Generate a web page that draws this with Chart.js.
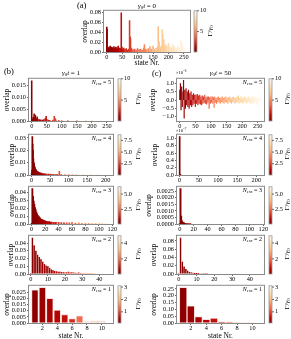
<!DOCTYPE html>
<html>
<head>
<meta charset="utf-8">
<script src="https://cdn.jsdelivr.net/npm/chart.js@4"></script>
<style>
  body { margin: 0; background: #fff; width: 291px; height: 339px; position: relative; overflow: hidden; font-family: 'Liberation Serif', serif; }
  canvas { position: absolute; }
  .t { position: absolute; white-space: nowrap; color: #000; line-height: 1; }
  .t sub { font-size: 70%; vertical-align: -0.3em; line-height: 0; }
  .t sup { font-size: 70%; vertical-align: 0.5em; line-height: 0; }
</style>
</head>
<body>
<script>
// Γ/γ0 of the states (one value per block of states)
const gammaN5 = [0.3, 0.7, 1.0, 1.3, 1.7, 2.0, 2.4, 2.8, 3.2, 3.6, 4.0, 4.4, 4.8, 5.2, 5.6, 6.0, 6.4, 6.8, 7.2, 7.6, 8.0, 8.4, 8.8, 9.2, 9.6, 9.9];
const gammaN4 = [0.2, 0.5, 0.8, 1.1, 1.5, 1.9, 2.4, 2.9, 3.4, 3.9, 4.4, 4.9, 5.4, 5.8, 6.2, 6.6, 7.0, 7.4, 7.8, 8.2, 8.5];
const gammaN3 = [0.2, 0.5, 0.9, 1.3, 1.7, 2.1, 2.6, 3.0, 3.5, 4.0, 4.5, 5.0, 5.5];
const gammaN2 = [0.2, 0.4, 0.6, 0.9, 1.3, 1.6, 2.8, 3.3, 3.8];
const gammaN1 = [0.2, 0.2, 0.3, 0.4, 0.5, 0.6, 0.8, 1.3, 2.8, 2.9, 3.0];

// tick labels
const ticksN5 = [0, 50, 100, 150, 200, 250];
const ticksN4 = [0, 50, 100, 150, 200];
const ticksN3 = [0, 20, 40, 60, 80, 100, 120];
const ticksN2 = [0, 10, 20, 30, 40];
const ticksN1 = [2, 4, 6, 8, 10];

// (a) gamma0 t = 0, N = 5
const aState = [0,1,3,5,7,9,11,13,15,17,
  19,21,23,25,27,29,31,33,35,37,
  39,41,43,45,47,49,51,55,59,63,
  67,71,74,76,77,80,85,90,95,100,
  105,110,115,120,122,125,130,135,140,145,
  150,155,160,165,167,170,173,176,180,182,
  185,188,191,195,200,205,210,215,220,225,
  230,235,240,243,246,250,254];
const aOverlap = [0.050,0.046,0.006,0.008,0.010,0.006,0.012,0.008,0.010,0.006,
  0.009,0.007,0.011,0.006,0.008,0.010,0.005,0.009,0.007,0.012,
  0.006,0.008,0.005,0.007,0.079,0.010,0.006,0.008,0.005,0.007,
  0.004,0.006,0.063,0.030,0.026,0.008,0.005,0.006,0.004,0.007,
  0.005,0.006,0.004,0.008,0.015,0.006,0.005,0.007,0.011,0.006,
  0.012,0.005,0.008,0.010,0.051,0.020,0.008,0.012,0.045,0.035,
  0.025,0.010,0.015,0.012,0.018,0.010,0.008,0.014,0.010,0.007,
  0.012,0.008,0.025,0.020,0.012,0.008,0.005];

// (b) gamma0 t = 1
const b5State = [0,2,5,8,10,12,15,18,20,25, 30,35,40,45,48,50,55,60,70,75, 78,80,90,100,120,150,180,200,230,250];
const b5Overlap = [0.0170,0.0008,0.0015,0.0030,0.0012,0.0025,0.0010,0.0018,0.0008,0.0006,
  0.0005,0.0004,0.0006,0.0010,0.0020,0.0007,0.0004,0.0003,0.0004,0.0020,
  0.0010,0.0005,0.0003,0.0002,0.0003,0.0003,0.0002,0.0002,0.0001,0.0001];
const b4State = [0,1,2,3,4,5,6,7,8,9, 10,11,12,13,14,15,16,17,18,19, 20,22,24,26,28,30,33,36,40,45,
  50,55,60,66,70,75,80,90,100,110, 120,140,160,180,200];
const b4Overlap = [0.001,0.004,0.031,0.025,0.020,0.013,0.010,0.009,0.007,0.006,
  0.005,0.0045,0.004,0.0035,0.003,0.003,0.0025,0.0025,0.002,0.002,
  0.002,0.0018,0.0015,0.0015,0.0012,0.0012,0.001,0.001,0.0008,0.0008,
  0.0007,0.0006,0.0006,0.0005,0.0005,0.003,0.0005,0.0004,0.0004,0.0003,
  0.0003,0.0002,0.0002,0.0002,0.0001];
const b3State = [0,1,2,3,4,5,6,7,8,9, 10,11,12,13,14,15,16,17,18,19, 20,22,24,26,28,30,33,36,40,44,
  48,52,56,60,65,70,75,80,85,90, 95,100,105,110];
const b3Overlap = [0.001,0.045,0.035,0.029,0.025,0.021,0.018,0.015,0.013,0.011,
  0.010,0.009,0.008,0.007,0.006,0.006,0.005,0.005,0.0045,0.004,
  0.004,0.0035,0.003,0.003,0.0025,0.0025,0.002,0.002,0.002,0.0018,
  0.0015,0.0015,0.0015,0.002,0.0012,0.0015,0.001,0.0012,0.001,0.001,
  0.0008,0.0007,0.0005,0.0003];
const b2State = [0,1,2,3,4,5,6,7,8,9,10,11,12,13,14,15,16,17,18,19,
  20,21,22,23,24,25,26,27,28,29,30,31,32,33,34,35,36,37];
const b2Overlap = [0.001,0.047,0.037,0.030,0.025,0.022,0.019,0.016,0.013,0.011,
  0.010,0.008,0.006,0.005,0.004,0.0035,0.003,0.003,0.0028,0.0025,
  0.002,0.0022,0.003,0.002,0.0025,0.002,0.0018,0.0015,0.002,0.0015,
  0.0012,0.001,0.0015,0.001,0.0012,0.0008,0.0006,0.0004];
const b1State = [1,2,3,4,5,6,7,8,9,10];
const b1Overlap = [0.027,0.029,0.020,0.0105,0.0068,0.0035,0.0057,0.0012,0.0015,0.0015];

// (c) gamma0 t = 50
const c5State = [0,2,4,6,8,10,12,14,16,18,20,
  22,24,26,28,30,32,34,36,38,40, 42,44,46,48,50,52,54,56,58,60,
  62,64,66,68,70,72,74,76,78,80, 82,84,86,88,90,92,94,96,98,100,
  102,104,106,108,110,112,114,116,118,120, 122,124,126,128,130,132,134,136,138,140,
  142,144,146,148,150,152,154,156,158,160, 162,164,166,168,170,172,174,176,178,180,
  182,184,186,188,190,192,194,196,198,200, 202,204,206,208,210,212,214,216,218,220,
  222,224,226,228,230,232,234,236,238,240, 242,244,246,248,250,252,254,256,258];
const c5Overlap = [0.6,1.0,-0.6,0.8,-0.4,0.5,1.2,-1.1,0.6,-0.5,0.7,
  -0.3,0.5,-0.4,0.6,-0.5,0.4,-0.3,0.5,-0.4,0.3,
  -0.3,0.4,-0.2,0.3,-0.4,0.3,-0.2,0.35,-0.3,0.25,
  -0.2,0.3,-0.25,0.2,-0.3,0.25,-0.2,0.2,-0.15,0.3,
  -0.2,0.15,-0.25,0.2,-0.15,0.2,-0.5,0.15,-0.2,0.2,
  -0.15,0.2,-0.2,0.15,-0.45,0.2,-0.15,0.1,-0.2,0.15,
  -0.1,0.2,-0.15,0.1,-0.2,0.15,-0.1,0.2,-0.15,0.1,
  -0.2,0.15,-0.1,0.2,-0.15,0.1,-0.2,0.15,-0.1,0.2,
  -0.15,0.1,-0.2,0.15,-0.1,0.2,-0.15,0.1,-0.2,0.15,
  -0.1,0.2,-0.15,0.25,-0.2,0.1,-0.15,0.2,-0.1,0.15,
  -0.2,0.1,-0.15,0.2,-0.1,0.15,-0.2,0.1,-0.15,0.2,
  -0.1,0.15,-0.2,0.1,-0.15,0.25,-0.2,0.1,-0.15,0.2,
  -0.1,0.15,-0.2,0.1,-0.4,0.15,-0.1,0.1,-0.05];
const c4State = [0,1,2];
const c4Overlap = [1.05,0.01,0.005];
const c3State = [0,1,2,3,4,5,6,7,8,10,12,15];
const c3Overlap = [0.00002,0.0027,0.0006,0.00025,0.00015,0.0001,0.00008,0.00006,0.00004,0.00003,0.00002,0.00001];
const c2State = [0,1,2,3,4,5,6,7,8,9,10,11,12,13,14,15,16];
const c2Overlap = [0.0005,0.088,0.030,0.018,0.012,0.008,0.005,0.004,0.003,0.002,0.002,0.0015,0.001,0.001,0.0008,0.0006,0.0004];
const c1State = [1,2,3,4,5,6,7,8,9,10];
const c1Overlap = [0.26,0.125,0.045,0.025,0.035,0.008,0.008,0.002,0.001,0.0005];

// OrRd reversed colormap
const OrRd = ['#7f0000','#b30000','#d7301f','#ef6548','#fc8d59','#fdbb84','#fdd49e','#fee8c8','#fff7ec'];
const rgbStops = OrRd.map(h => [1, 3, 5].map(i => parseInt(h.substr(i, 2), 16)));
function cmap(t) {
  t = Math.max(0, Math.min(1, t)) * (rgbStops.length - 1);
  const i = Math.min(rgbStops.length - 2, Math.floor(t)), f = t - i;
  const c = rgbStops[i].map((v, k) => Math.round(v + (rgbStops[i + 1][k] - v) * f));
  return 'rgb(' + c.join(',') + ')';
}

const groups = {
  5: {gamma: gammaN5, gStep: 10, gRange: [0.1, 10], gTicks: [5, 10], gDec: 0, xRange: [-9, 270], xTicks: ticksN5},
  4: {gamma: gammaN4, gStep: 10, gRange: [0.1, 8.7], gTicks: [2.5, 5, 7.5], gDec: 1, xRange: [-7, 220], xTicks: ticksN4},
  3: {gamma: gammaN3, gStep: 10, gRange: [0.1, 6.2], gTicks: [2.5, 5], gDec: 1, xRange: [-4, 121], xTicks: ticksN3},
  2: {gamma: gammaN2, gStep: 5, gRange: [0.1, 4.9], gTicks: [2, 4], gDec: 0, xRange: [-1, 48], xTicks: ticksN2},
  1: {gamma: gammaN1, gStep: 1, gRange: [0.1, 3.1], gTicks: [1, 2, 3], gDec: 0, xRange: [0.2, 11.5], xTicks: ticksN1}
};

Chart.defaults.font.family = "'Liberation Serif', serif";
Chart.defaults.color = '#000';

function label(html, x, y, size, align) {
  const d = document.createElement('div');
  d.className = 't';
  d.innerHTML = html;
  d.style.fontSize = size + 'px';
  d.style.left = x + 'px';
  d.style.top = y + 'px';
  if (align === 'c') d.style.transform = 'translate(-50%,-50%)';
  if (align === 'r') d.style.transform = 'translateX(-100%)';
  if (align === 'rot') d.style.transform = 'translate(-50%,-50%) rotate(-90deg)';
  document.body.appendChild(d);
}

function makePanel(p) {
  const padT = 3;
  const g = groups[p.n];
  const cv = document.createElement('canvas');
  cv.width = p.yW + p.W + p.cbW;
  cv.height = padT + p.H + p.xH;
  cv.style.left = (p.L - p.yW) + 'px';
  cv.style.top = (p.T - padT) + 'px';
  document.body.appendChild(cv);

  const norm = v => (v - g.gRange[0]) / (g.gRange[1] - g.gRange[0]);
  const colors = p.x.map(s => cmap(norm(g.gamma[Math.min(g.gamma.length - 1, Math.floor(s / g.gStep))])));
  const yMax = p.yMax !== undefined ? p.yMax : Math.max(...p.y) * 1.05;
  const yMin = p.yMin !== undefined ? p.yMin : 0;
  const tickFont = {size: 6.3};
  const titleFont = {size: 7.5};
  const lh = 7.5 * 1.2;

  new Chart(cv, {
    type: 'bar',
    data: {
      datasets: [{
        data: p.x.map((s, i) => ({x: s, y: p.y[i]})),
        backgroundColor: colors,
        borderColor: 'rgba(240,195,195,0.9)',
        borderWidth: p.bw || 0,
        barThickness: p.barPx
      }]
    },
    options: {
      responsive: false,
      animation: false,
      events: [],
      layout: {padding: {top: padT, left: 0, right: 0, bottom: 0}, autoPadding: false},
      plugins: {legend: {display: false}, tooltip: {enabled: false}},
      scales: {
        x: {
          type: 'linear', min: g.xRange[0], max: g.xRange[1], offset: false,
          afterBuildTicks: s => { s.ticks = g.xTicks.map(v => ({value: v})); },
          afterFit: s => { s.height = p.xH; },
          grid: {drawOnChartArea: false, offset: false, tickLength: 2, color: '#444', lineWidth: 0.8},
          border: {display: false},
          ticks: {padding: 0, maxRotation: 0, autoSkip: false, font: tickFont, callback: v => String(v)},
          title: {display: !!p.xTitle, text: p.xTitle, font: titleFont, padding: {top: 0, bottom: 0}}
        },
        y: {
          type: 'linear', min: yMin, max: yMax,
          afterBuildTicks: s => { s.ticks = p.yTicks.map(v => ({value: v})); },
          afterFit: s => { s.width = p.yW; },
          grid: {drawOnChartArea: false, tickLength: 2, color: '#444', lineWidth: 0.8},
          border: {display: false},
          ticks: {padding: 1, autoSkip: false, font: tickFont, callback: v => v.toFixed(p.yDec).replace('-', '\u2212')},
          title: {display: true, text: 'overlap', font: titleFont,
                  padding: {top: p.yTitleX - (p.L - p.yW) - lh / 2, bottom: 0}}
        },
        cb: {
          type: 'linear', position: 'right', min: g.gRange[0], max: g.gRange[1],
          afterBuildTicks: s => { s.ticks = g.gTicks.map(v => ({value: v})); },
          afterFit: s => { s.width = p.cbW; },
          grid: {drawOnChartArea: false, color: 'rgba(0,0,0,0)', tickLength: p.gap + 5},
          border: {display: false},
          ticks: {padding: 1, autoSkip: false, font: tickFont, callback: v => v.toFixed(g.gDec)}
        }
      }
    },
    plugins: [{
      id: 'frameAndColorbar',
      afterDraw(chart) {
        const {ctx, chartArea: a} = chart;
        const cb = chart.scales.cb;
        const x0 = a.right + p.gap;
        const top = cb.getPixelForValue(g.gRange[1]);
        const bot = cb.getPixelForValue(g.gRange[0]);
        ctx.save();
        const grad = ctx.createLinearGradient(0, bot, 0, top);
        OrRd.forEach((c, i) => grad.addColorStop(i / (OrRd.length - 1), c));
        ctx.fillStyle = grad;
        ctx.fillRect(x0, top, 3, bot - top);
        ctx.strokeStyle = '#999';
        ctx.lineWidth = 0.8;
        ctx.strokeRect(x0, top, 3, bot - top);
        ctx.strokeStyle = '#444';
        g.gTicks.forEach(v => {
          const y = cb.getPixelForValue(v);
          ctx.beginPath();
          ctx.moveTo(x0 + 3, y);
          ctx.lineTo(x0 + 5, y);
          ctx.stroke();
        });
        ctx.strokeStyle = '#8a8a8a';
        ctx.lineWidth = 1;
        ctx.strokeRect(a.left - 0.5, a.top - 0.5, a.right - a.left + 1, a.bottom - a.top + 1);
        ctx.restore();
      }
    }]
  });

  if (p.nLabel) label('<i>N</i><sub>exc</sub> = ' + p.n, p.L + p.W - 2, p.T + 1.5, 6, 'r');
  label('\u0393/<i>\u03b3</i><sub>0</sub>', p.cbLabelX, p.T + p.H / 2, 7, 'rot');
}

const rows = [{T: 77, H: 44}, {T: 133, H: 42}, {T: 185, H: 39}, {T: 234, H: 40}, {T: 284, H: 39}];
const colB = {L: 29, W: 84, yW: 29, cbW: 32, gap: 5, cbLabelX: 138};
const colC = {L: 177, W: 87, yW: 32, cbW: 27, gap: 5, cbLabelX: 287};

// (a)
makePanel({n: 5, L: 104, T: 9, W: 86, H: 43, yW: 30, cbW: 24, gap: 4, xH: 16, yTitleX: 85, cbLabelX: 210,
  x: aState, y: aOverlap, yTicks: [0, 0.02, 0.04, 0.06, 0.08], yDec: 2, barPx: 0.9, xTitle: 'state Nr.'});

const bPanels = [
  {n: 5, x: b5State, y: b5Overlap, yTicks: [0, 0.005, 0.010, 0.015], yDec: 3, barPx: 0.9, yTitleX: 7.5},
  {n: 4, x: b4State, y: b4Overlap, yTicks: [0, 0.01, 0.02, 0.03], yDec: 2, barPx: 1, yTitleX: 12},
  {n: 3, x: b3State, y: b3Overlap, yTicks: [0, 0.01, 0.02, 0.03, 0.04], yDec: 2, barPx: 1.2, yTitleX: 12},
  {n: 2, x: b2State, y: b2Overlap, yTicks: [0, 0.01, 0.02, 0.03, 0.04], yDec: 2, barPx: 1.6, bw: 0.4, yTitleX: 11.5},
  {n: 1, x: b1State, y: b1Overlap, yTicks: [0, 0.005, 0.010, 0.015, 0.020, 0.025], yDec: 3, barPx: 6.4, bw: 0.8, yTitleX: 7.5}
];
const cPanels = [
  {n: 5, x: c5State, y: c5Overlap, yTicks: [-1, -0.5, 0, 0.5, 1], yDec: 1, barPx: 0.5, yMin: -1.27, yMax: 1.29, yTitleX: 153},
  {n: 4, x: c4State, y: c4Overlap, yTicks: [0, 0.2, 0.4, 0.6, 0.8, 1.0], yDec: 1, barPx: 1, yTitleX: 155},
  {n: 3, x: c3State, y: c3Overlap, yTicks: [0, 0.0005, 0.0010, 0.0015, 0.0020, 0.0025], yDec: 4, barPx: 1.3, yTitleX: 149},
  {n: 2, x: c2State, y: c2Overlap, yTicks: [0, 0.02, 0.04, 0.06, 0.08], yDec: 2, barPx: 1.6, bw: 0.4, yTitleX: 154},
  {n: 1, x: c1State, y: c1Overlap, yTicks: [0, 0.05, 0.10, 0.15, 0.20, 0.25], yDec: 2, barPx: 7.2, bw: 0.8, yTitleX: 154}
];

bPanels.forEach((d, i) => makePanel(Object.assign({}, colB, rows[i], d, {
  nLabel: true, xH: i === 4 ? 18 : 9, xTitle: i === 4 ? 'state Nr.' : ''})));
cPanels.forEach((d, i) => makePanel(Object.assign({}, colC, rows[i], d, {
  nLabel: true, xH: i === 4 ? 18 : 9, xTitle: i === 4 ? 'state Nr.' : ''})));

// panel letters, titles, offsets
label('(a)', 77, 1, 8.5);
label('<i>\u03b3</i><sub>0</sub><i>t</i> = 0', 147, 5.5, 7, 'c');
label('(b)', 4, 67, 8.5);
label('<i>\u03b3</i><sub>0</sub><i>t</i> = 1', 71, 72.5, 7, 'c');
label('(c)', 152, 69, 8.5);
label('<i>\u03b3</i><sub>0</sub><i>t</i> = 50', 220.5, 72.5, 7, 'c');
label('\u00d710<sup>\u22126</sup>', 176, 71, 4.5);
label('\u00d710<sup>\u22127</sup>', 176, 129, 4.5);
</script>
</body>
</html>
